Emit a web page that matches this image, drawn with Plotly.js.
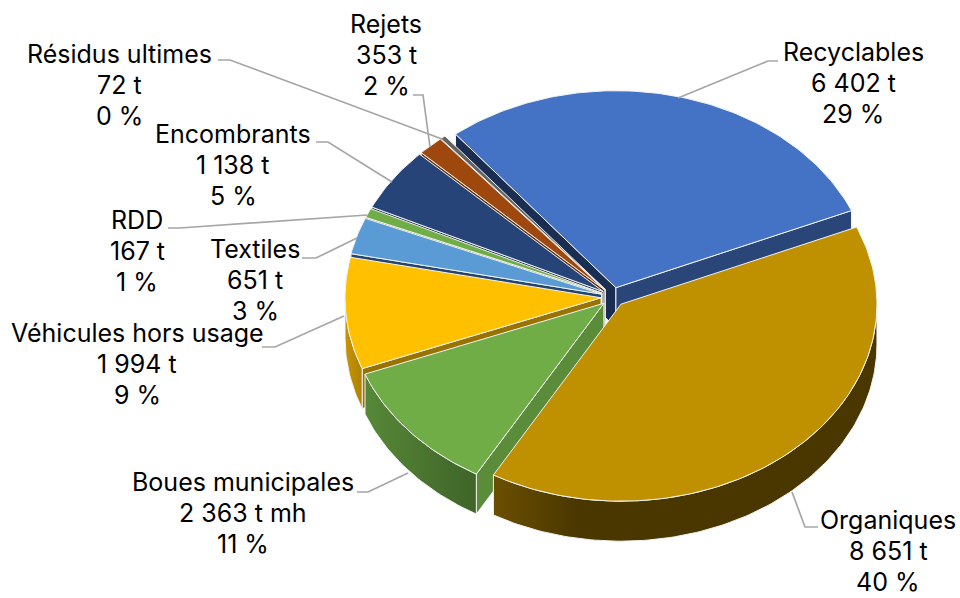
<!DOCTYPE html>
<html><head><meta charset="utf-8">
<script src="https://cdn.plot.ly/plotly-3.0.1.min.js"></script>
<style>html,body{margin:0;padding:0;background:#fff}#c{width:960px;height:598px}</style>
</head><body><div id="c"></div>
<script>
const categories=["Recyclables","Organiques","Boues municipales","Véhicules hors usage","Textiles","RDD","Encombrants","Rejets","Résidus ultimes"];
const tonnages=[6402,8651,2363,1994,651,167,1138,353,72];
const tonnageLabels=["6 402 t","8 651 t","2 363 t mh","1 994 t","651 t","167 t","1 138 t","353 t","72 t"];
const percentLabels=["29 %","40 %","11 %","9 %","3 %","1 %","5 %","2 %","0 %"];
const topColors=["#4472C4","#BF9000","#70AD47","#FFC000","#5B9BD5","#70AD47","#264478","#9E480E","#636363"];
const rimLeft=["#2A4679","#6B4F00","#578838","#C79500","#3B6D9E","#4A7A30","#1A2D52","#6B3009","#3F3F3F"];
const rimRight=["#2A4679","#4A3700","#3E6427","#AD8200","#3B6D9E","#4A7A30","#1A2D52","#6B3009","#3F3F3F"];
const rimBreak=[1,0.22,1,1,1,1,1,1,1];
const cutStart=["#1A2D52","#7F6000","#5B8C3A","#997300","#26456E","#4A7A30","#1A2D52","#6B3009","#3F3F3F"];
const cutEnd=["#2A4679","#7F6000","#5B8C3A","#997300","#26456E","#4A7A30","#1A2D52","#6B3009","#3F3F3F"];
const labelCentres=[[853,83],[888,551],[243,513],[137,364],[255,280],[137,251],[233,165],[386,55],[119,85]];
const leaders=[
 [[778,61],[768,61],[678,98]],
 [[818,527],[805,527],[792,492]],
 [[357,492],[368,492],[408,473]],
 [[262,347],[275,347],[344,316]],
 [[302,258],[316,258],[357,238]],
 [[168,228],[180,228],[367,215]],
 [[316,142],[328,142],[392,182]],
 [[413,95],[423,95],[430,147]],
 [[218,60],[230,60],[442,139]]
];
const startAngle=-38.8, cx=613, cy=297, rx=256, ry=197, depth=40, explode=12, lineGap=31;
const order=[0,8,7,6,5,4,3,2,1];
const total=tonnages.reduce((a,b)=>a+b,0);
const rad=d=>d*Math.PI/180;
let a=startAngle;
const slices=tonnages.map(v=>{const s=a;a+=v/total*360;return {s,e:a};});
const edge="#F2F2F2";
const traces=[];
function poly(pts,fill,scale){
  const t={type:"scatter",mode:"lines",x:pts.map(p=>p[0]),y:pts.map(p=>p[1]),fill:"toself",hoverinfo:"skip",
    line:{color:edge,width:1}};
  if(scale) t.fillgradient={type:"horizontal",colorscale:scale};
  else t.fillcolor=fill;
  traces.push(t);
}
const norm=d=>((d%360)+360)%360;
order.forEach(i=>{
  const {s,e}=slices[i], m=(s+e)/2;
  const ox=cx+explode*Math.sin(rad(m)), oy=cy-explode*0.8*Math.cos(rad(m));
  const pt=(d,dz)=>[ox+rx*Math.sin(rad(d)),oy-ry*Math.cos(rad(d))+(dz||0)];
  const arc=(from,to,dz)=>{const n=Math.max(2,Math.ceil(Math.abs(to-from)));const r=[];for(let k=0;k<=n;k++)r.push(pt(from+(to-from)*k/n,dz));return r;};
  const A=[ox,oy], Az=[ox,oy+depth];
  if(norm(s)>180) poly([A,pt(s),pt(s,depth),Az,A],cutStart[i]);
  if(norm(e)<180) poly([A,pt(e),pt(e,depth),Az,A],cutEnd[i]);
  const lo=Math.max(norm(s),90), hi=Math.min(norm(s)+(e-s),270);
  if(hi>lo){
    const top=arc(lo,hi,0), bot=arc(hi,lo,depth);
    const scale=rimBreak[i]<1?[[0,rimLeft[i]],[rimBreak[i],rimRight[i]],[1,rimRight[i]]]:[[0,rimLeft[i]],[1,rimRight[i]]];
    poly(top.concat(bot,[top[0]]),null,scale);
  }
  poly([A].concat(arc(s,e,0),[A]),topColors[i]);
});
leaders.forEach(l=>traces.push({type:"scatter",mode:"lines",x:l.map(p=>p[0]),y:l.map(p=>p[1]),hoverinfo:"skip",line:{color:"#A6A6A6",width:1.7}}));
const annotations=[];
categories.forEach((c,i)=>{
  [c,tonnageLabels[i],percentLabels[i]].forEach((txt,k)=>annotations.push({
    x:labelCentres[i][0],y:labelCentres[i][1]+(k-1)*lineGap,xref:"x",yref:"y",showarrow:false,
    xanchor:"center",yanchor:"middle",align:"center",text:txt,
    font:{family:"Inter",size:25,color:"#000"}}));
});
Plotly.newPlot("c",traces,{width:960,height:598,margin:{l:0,r:0,t:0,b:0},showlegend:false,
  paper_bgcolor:"#fff",plot_bgcolor:"#fff",annotations,
  xaxis:{range:[0,960],visible:false,fixedrange:true},
  yaxis:{range:[598,0],visible:false,fixedrange:true}},{displayModeBar:false,staticPlot:true});
</script></body></html>
